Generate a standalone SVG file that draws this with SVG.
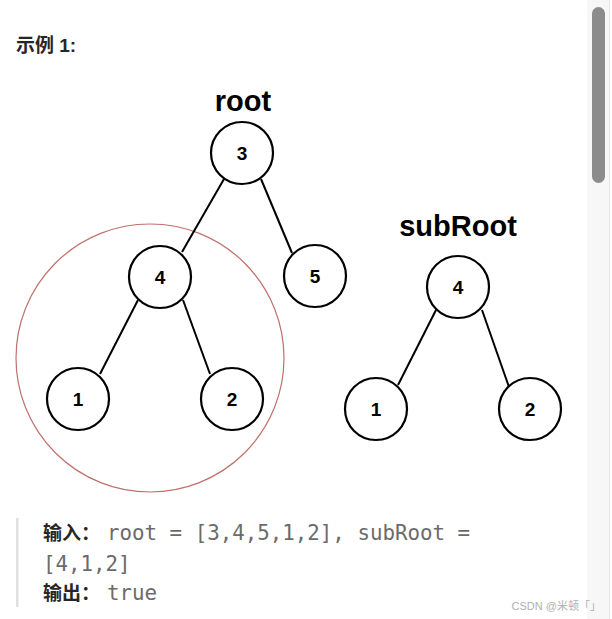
<svg xmlns="http://www.w3.org/2000/svg" width="612" height="619" viewBox="0 0 612 619">
<style>
.node circle{fill:#fff;stroke:#000;stroke-width:2.2}
.node text{font-family:"Liberation Sans",Arial,sans-serif;font-weight:bold;font-size:19px;fill:#000;text-anchor:middle}
.edge{stroke:#000;stroke-width:2;fill:none}
.lbl{font-family:"Liberation Sans",Arial,sans-serif;font-weight:bold;font-size:29px;fill:#000;text-anchor:middle}
.cjk{font-family:"Liberation Sans","Noto Sans CJK SC",sans-serif;font-weight:bold;fill:#262626}
.code{font-family:"DejaVu Sans Mono","Liberation Mono",monospace;font-size:20.8px;fill:#6b6b6b}
</style>
<rect width="612" height="619" fill="#fff"/>
<text class="cjk" x="16" y="52" font-size="19">示例 1:</text>
<text class="lbl" x="243" y="111">root</text>
<text class="lbl" x="458" y="236">subRoot</text>
<circle id="highlight" cx="150" cy="358" r="134" fill="none" stroke="#c0706c" stroke-width="1.2"/>
<g id="connectors">
<line class="edge" x1="224" y1="179" x2="182" y2="252"/>
<line class="edge" x1="261" y1="179" x2="292" y2="253"/>
<line class="edge" x1="138" y1="300" x2="100" y2="374"/>
<line class="edge" x1="183" y1="300" x2="210" y2="374"/>
<line class="edge" x1="436" y1="310" x2="398" y2="385"/>
<line class="edge" x1="482" y1="310" x2="509" y2="387"/>
</g>
<g id="n3" class="node"><circle cx="242" cy="153" r="31"/><text x="242" y="160">3</text></g>
<g id="n4" class="node"><circle cx="160" cy="277" r="31"/><text x="160" y="284">4</text></g>
<g id="n5" class="node"><circle cx="315" cy="276" r="31"/><text x="315" y="283">5</text></g>
<g id="n1" class="node"><circle cx="78" cy="399" r="31"/><text x="78" y="406">1</text></g>
<g id="n2" class="node"><circle cx="232" cy="399" r="31"/><text x="232" y="406">2</text></g>
<g id="s4" class="node"><circle cx="458" cy="287" r="31"/><text x="458" y="294">4</text></g>
<g id="s1" class="node"><circle cx="376" cy="409" r="31"/><text x="376" y="416">1</text></g>
<g id="s2" class="node"><circle cx="530" cy="409" r="31"/><text x="530" y="416">2</text></g>
<rect x="16" y="518" width="2.5" height="89" fill="#e0e0e0"/>
<text x="43" y="540" font-size="19"><tspan class="cjk">输入：</tspan><tspan class="code" x="107">root = [3,4,5,1,2], subRoot =</tspan></text>
<text class="code" x="43" y="571">[4,1,2]</text>
<text x="43" y="600" font-size="19"><tspan class="cjk">输出：</tspan><tspan class="code" x="107">true</tspan></text>
<rect x="587" y="0" width="22" height="619" fill="#f7f7f7"/>
<rect x="609" y="0" width="1" height="619" fill="#e6e6e6"/>
<rect x="592" y="7" width="13" height="176" rx="6.5" fill="#8c8c8c"/>
<text x="601" y="610" font-family="'Liberation Sans','Noto Sans CJK SC',sans-serif" font-size="11" fill="#b0b0b0" text-anchor="end">CSDN @米顿「」</text>
</svg>
